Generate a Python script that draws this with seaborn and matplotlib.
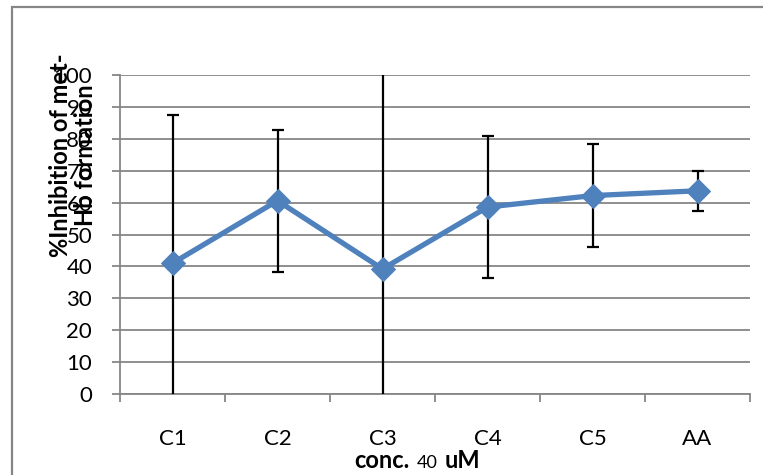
import numpy as np
import pandas as pd
import matplotlib
matplotlib.use("Agg")
import matplotlib.pyplot as plt
import seaborn as sns
from matplotlib.patches import Rectangle
from matplotlib.offsetbox import TextArea, HPacker, AnchoredOffsetbox

# data
categories = ["C1", "C2", "C3", "C4", "C5", "AA"]
inhibition = [41.0, 60.6, 39.2, 58.6, 62.2, 63.7]
err = [46.5, 22.3, 65.0, 22.2, 16.2, 6.3]
yticks = list(range(0, 101, 10))

df = pd.DataFrame({"conc": categories, "inhibition": inhibition, "err": err})

sns.set_style("white")
plt.rcParams["font.family"] = ["Lato", "DejaVu Sans"]
plt.rcParams["text.color"] = "black"
plt.rcParams["xtick.labelcolor"] = "black"
plt.rcParams["ytick.labelcolor"] = "black"

grey = "#868686"
blue = "#4F81BD"

fig = plt.figure(figsize=(7.63, 4.75), dpi=100)
ax = fig.add_axes([120 / 763, 1 - 394 / 475, 630 / 763, 319 / 475])

# outer chart border
fig.patches.append(Rectangle((12 / 763, -0.2), 1.2, 1 - 7 / 475 + 0.2,
                             transform=fig.transFigure, fill=False,
                             edgecolor=grey, linewidth=1.6))

xpos = np.arange(len(categories))
ax.errorbar(xpos, df["inhibition"], yerr=df["err"], fmt="none",
            ecolor="black", elinewidth=1.6, capsize=4.5, capthick=1.6, zorder=3)
sns.lineplot(data=df, x="conc", y="inhibition", ax=ax, color=blue,
             linewidth=3.8, marker="D", markersize=12, markeredgecolor=blue,
             sort=False, zorder=4)

ax.set_xlim(-0.5, len(categories) - 0.5)
ax.set_ylim(0, 100)
ax.set_yticks(yticks)
ax.set_xticks(xpos)
ax.set_xticklabels(categories)
ax.set_xticks(np.arange(-0.5, len(categories), 1.0), minor=True)

ax.grid(axis="y", color=grey, linewidth=1.3)
ax.set_axisbelow(True)
for side in ["top", "right"]:
    ax.spines[side].set_visible(False)
for side in ["left", "bottom"]:
    ax.spines[side].set_color(grey)
    ax.spines[side].set_linewidth(1.3)

ax.tick_params(axis="y", which="major", direction="out", length=6, width=1.3,
               color=grey, labelsize=16, pad=14, left=True, labelcolor="black")
ax.tick_params(axis="x", which="major", length=0, labelsize=16, pad=25,
               labelcolor="black")
ax.tick_params(axis="x", which="minor", direction="out", length=6, width=1.3,
               color=grey, bottom=True)
ax.set_xlabel("")
ax.set_ylabel("")

# y label sits over the tick numbers, as in the original
fig.text(73 / 763, 1 - 155 / 475, "%Inhibition of met-\nHb formation",
         rotation=90, ha="center", va="center", multialignment="center",
         fontsize=17, fontweight="bold", linespacing=1.15, color="black")

# x label with mixed weights
parts = [TextArea("conc.", textprops=dict(fontsize=17, fontweight="bold", color="black")),
         TextArea("40", textprops=dict(fontsize=13, color="black")),
         TextArea("uM", textprops=dict(fontsize=17, fontweight="bold", color="black"))]
pack = HPacker(children=parts, align="baseline", pad=0, sep=5)
box = AnchoredOffsetbox(loc="center", child=pack, frameon=False,
                        bbox_to_anchor=(417 / 763, 1 - 461 / 475),
                        bbox_transform=fig.transFigure, borderpad=0, pad=0)
fig.add_artist(box)

fig.savefig("out.png", dpi=100)
